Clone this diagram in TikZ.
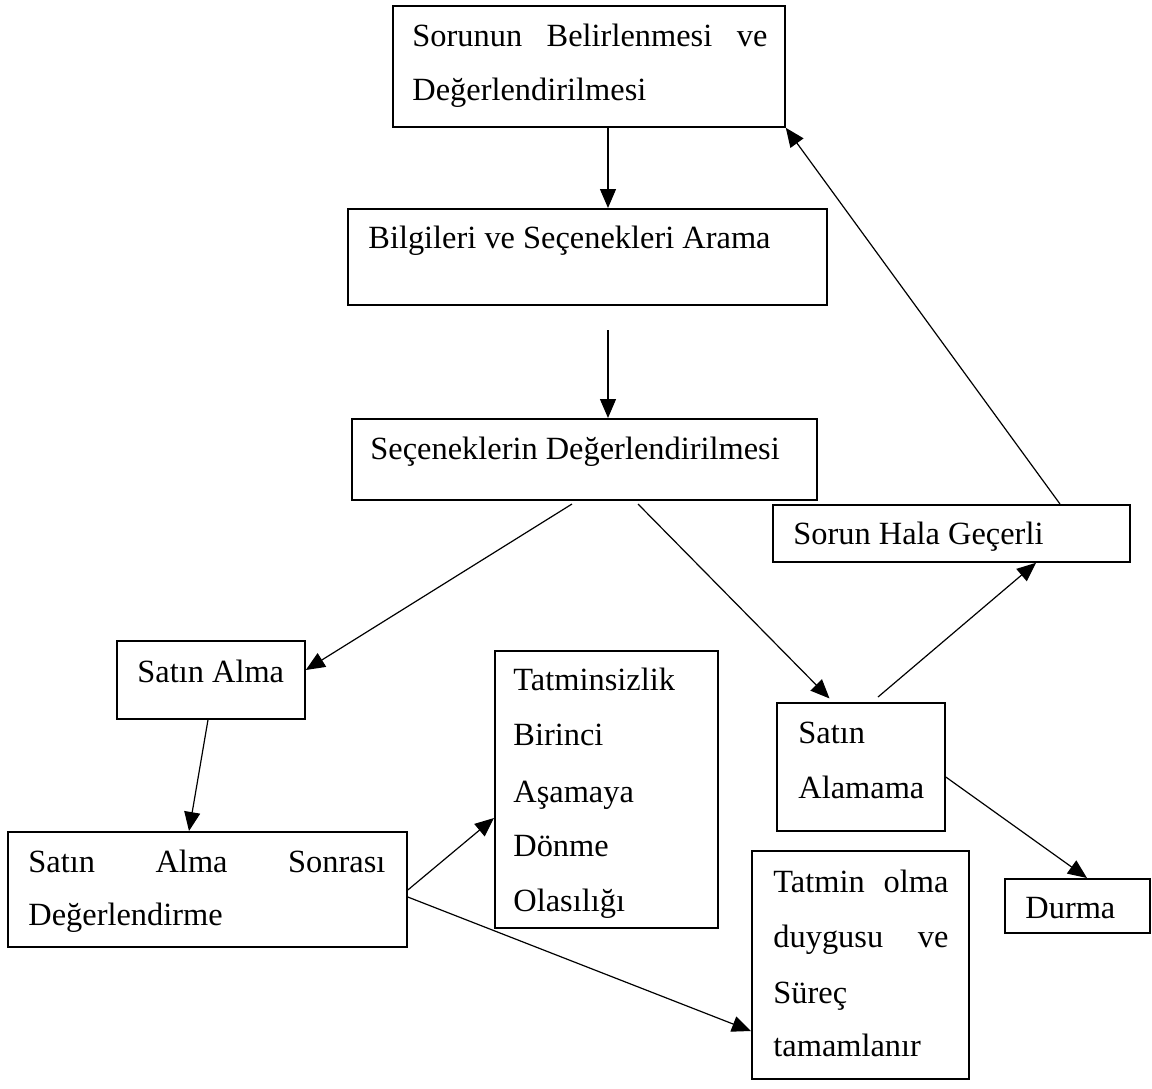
\documentclass[tikz,border=0pt]{standalone}
\usepackage{fontspec}
\setmainfont{Liberation Serif}
\usetikzlibrary{arrows.meta}

\begin{document}
\begin{tikzpicture}[x=0.5pt,y=-0.5pt,
  stagebox/.style={draw,line width=0.9pt,rectangle,inner sep=0pt,anchor=north west},
  label/.style={anchor=base west,inner sep=0pt,font=\fontsize{16.2}{19}\selectfont},
  flow/.style={line width=0.6pt,-{Triangle[length=9.5pt,width=8pt]}}]

\useasboundingbox (0,0) rectangle (1152,1088);

% boxes: corner at (left,top), sizes in pixels/2 = pt
\node[stagebox,minimum width=196pt,minimum height=60.5pt] (b1)  at (392,5)   {};
\node[stagebox,minimum width=239.5pt,minimum height=48pt] (b2)  at (347,208) {};
\node[stagebox,minimum width=232.5pt,minimum height=40.5pt] (b3) at (351,418) {};
\node[stagebox,minimum width=178.5pt,minimum height=28.5pt] (b4) at (772,504) {};
\node[stagebox,minimum width=94pt,minimum height=39pt]    (b5)  at (116,640) {};
\node[stagebox,minimum width=111.5pt,minimum height=138.5pt] (b6) at (494,650) {};
\node[stagebox,minimum width=84pt,minimum height=64pt]    (b7)  at (776,702) {};
\node[stagebox,minimum width=199.5pt,minimum height=57.5pt] (b8) at (7,831)  {};
\node[stagebox,minimum width=108.5pt,minimum height=114pt] (b9) at (751,850) {};
\node[stagebox,minimum width=72.5pt,minimum height=27pt]  (b10) at (1004,878) {};

% texts
\node[label] (t1a) at (412,46)  {\makebox[177.5pt][s]{Sorunun Belirlenmesi ve}};
\node[label] (t1b) at (412,100) {Değerlendirilmesi};
\node[label] (t2)  at (368,248) {Bilgileri ve Seçenekleri Arama};
\node[label] (t3)  at (370,459) {Seçeneklerin Değerlendirilmesi};
\node[label] (t4)  at (793,544) {Sorun Hala Geçerli};
\node[label] (t5)  at (137,682) {Satın Alma};
\node[label] (t6a) at (513,690) {Tatminsizlik};
\node[label] (t6b) at (513,745) {Birinci};
\node[label] (t6c) at (513,802) {Aşamaya};
\node[label] (t6d) at (513,856) {Dönme};
\node[label] (t6e) at (513,911) {Olasılığı};
\node[label] (t7a) at (798,743) {Satın};
\node[label] (t7b) at (798,798) {Alamama};
\node[label] (t8a) at (28,872)  {\makebox[178.5pt][s]{Satın Alma Sonrası}};
\node[label] (t8b) at (28,925)  {Değerlendirme};
\node[label] (t9a) at (773,892) {\makebox[87.5pt][s]{Tatmin olma}};
\node[label] (t9b) at (773,947) {\makebox[87.5pt][s]{duygusu ve}};
\node[label] (t9c) at (773,1003) {Süreç};
\node[label] (t9d) at (773,1056) {tamamlanır};
\node[label] (t10) at (1025,918) {Durma};

% loose arrow ends
\coordinate (a2s) at (608,330);
\coordinate (a3s) at (572,504);
\coordinate (a4s) at (638,504);
\coordinate (a5s) at (878,697);

% connectors
\draw[flow] (b1.south -| 608,0) -- (b2.north -| 608,0);
\draw[flow] (a2s) -- (b3.north -| 608,0);
\draw[flow] (a3s) -- (b5.east |- 0,670);
\draw[flow,shorten >=2.5pt] (a4s) -- (b7.north -| 833,0);
\draw[flow] (a5s) -- (b4.south -| 1036,0);
\draw[flow] (b4.north -| 1060,0) -- (b1.south east);
\draw[flow] (b5.south -| 208,0) -- (b8.north -| 189,0);
\draw[flow] (b8.east |- 0,890) -- (b6.west |- 0,818);
\draw[flow] (b8.east |- 0,897) -- (b9.west |- 0,1031);
\draw[flow] (b7.east |- 0,777) -- (b10.north -| 1087,0);
\end{tikzpicture}
\end{document}
